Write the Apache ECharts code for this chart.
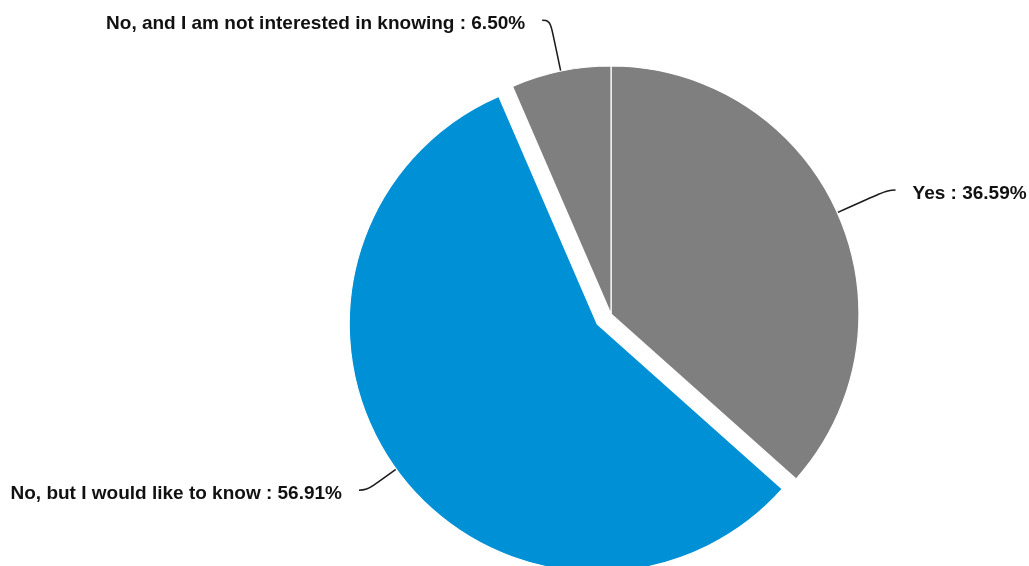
<!DOCTYPE html>
<html>
<head>
<meta charset="utf-8">
<script src="https://cdn.jsdelivr.net/npm/echarts@6/dist/echarts.min.js"></script>
<style>
  html, body { margin: 0; padding: 0; background: #ffffff; }
  #chart { width: 1029px; height: 566px; }
</style>
</head>
<body>
<div id="chart"></div>
<script>
// Survey answers, in clockwise order from 12 o'clock
const categories = [
  'Yes',
  'No, but I would like to know',
  'No, and I am not interested in knowing'
];
const shares = [36.59, 56.91, 6.50];
const sliceColors = ['#7f7f7f', '#0090d6', '#7f7f7f'];
const exploded = [false, true, false];
// label line segment lengths per slice: [radial, horizontal]
const lineLengths = [[55, 8], [36, 8], [52, 8]];

const pieData = categories.map((name, i) => ({
  name: name,
  value: shares[i],
  selected: exploded[i],
  itemStyle: { color: sliceColors[i] },
  labelLine: { length: lineLengths[i][0], length2: lineLengths[i][1] }
}));

const chart = echarts.init(document.getElementById('chart'), null, { renderer: 'canvas' });
chart.setOption({
  animation: false,
  backgroundColor: '#ffffff',
  series: [{
    type: 'pie',
    center: [611, 314],
    radius: [0, 248],
    startAngle: 90,
    clockwise: true,
    selectedMode: 'multiple',
    selectedOffset: 17,
    avoidLabelOverlap: false,
    itemStyle: { borderColor: '#ffffff', borderWidth: 1.2 },
    label: {
      show: true,
      position: 'outside',
      formatter: p => p.name + ' : ' + p.value.toFixed(2) + '%',
      fontFamily: '"Liberation Sans", Arial, sans-serif',
      fontWeight: 'bold',
      fontSize: 19,
      color: '#111111',
      distanceToLabelLine: 17
    },
    labelLayout: { dy: 4 },
    labelLine: {
      show: true,
      smooth: 0.5,
      lineStyle: { color: '#1a1a1a', width: 1.5 }
    },
    emphasis: { disabled: true },
    data: pieData
  }]
});
</script>
</body>
</html>
